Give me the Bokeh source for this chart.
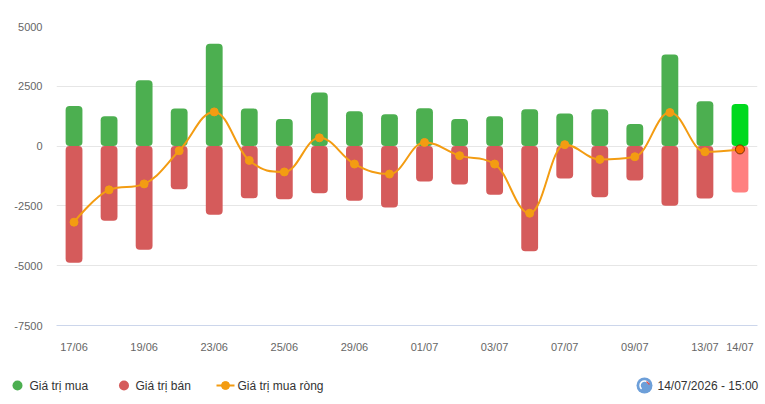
from bokeh.plotting import figure
from bokeh.models import Range1d, FixedTicker, ColumnDataSource
from bokeh.layouts import column
from bokeh.embed import file_html
from bokeh.resources import INLINE
from bokeh.core.properties import value

dates = ["17/06", "18/06", "19/06", "22/06", "23/06", "24/06", "25/06", "26/06", "29/06", "30/06",
         "01/07", "02/07", "03/07", "06/07", "07/07", "08/07", "09/07", "10/07", "13/07", "14/07"]
buy = [1680, 1250, 2750, 1570, 4280, 1570, 1130, 2240, 1460, 1330,
       1580, 1130, 1250, 1540, 1360, 1540, 920, 3830, 1880, 1760]
sell = [-4880, -3120, -4330, -1800, -2870, -2180, -2220, -1970, -2280, -2570,
        -1480, -1610, -2030, -4400, -1350, -2140, -1440, -2490, -2190, -1940]
net = [-3180, -1830, -1580, -195, 1430, -600, -1080, 347, -750, -1170,
       153, -400, -750, -2806, 60, -555, -444, 1403, -236, -139]
label_idx = [0, 2, 4, 6, 8, 10, 12, 14, 16, 18, 19]
y_ticks = [-7500, -5000, -2500, 0, 2500, 5000]
legend_names = ["Giá trị mua", "Giá trị bán", "Giá trị mua ròng"]
timestamp = "14/07/2026 - 15:00"

GREEN = "#4caf50"
RED = "#d55b5b"
ORANGE = "#f39c12"
FONT = "Liberation Sans"

n = len(dates)
xs = list(range(n))
green_cols = [GREEN] * (n - 1) + ["#00d91e"]
red_cols = [RED] * (n - 1) + ["#ff8080"]

p = figure(output_backend="svg", toolbar_location=None,
           frame_width=701, frame_height=299,
           min_border_left=56, min_border_right=8, min_border_top=26, min_border_bottom=32,
           x_range=Range1d(-0.5, n - 0.5), y_range=Range1d(y_ticks[0], y_ticks[-1]))
p.outline_line_color = None
p.background_fill_color = "white"
p.border_fill_color = "white"

src = ColumnDataSource(dict(x=xs, buy=buy, sell=sell, gc=green_cols, rc=red_cols))
p.vbar(x="x", top="buy", bottom=0, width=0.48, fill_color="gc", line_color=None,
       border_radius=4, source=src)
p.vbar(x="x", top=0, bottom="sell", width=0.48, fill_color="rc", line_color=None,
       border_radius=4, source=src)

# Highcharts-like spline
def spline_controls(px_, py_, smoothing=1.5):
    m = len(px_)
    d = smoothing + 1
    lcx, lcy, rcx, rcy = list(px_), list(py_), list(px_), list(py_)
    for i in range(1, m - 1):
        x, y = px_[i], py_[i]
        lx, ly = px_[i - 1], py_[i - 1]
        nx, ny = px_[i + 1], py_[i + 1]
        lX = (smoothing * x + lx) / d
        lY = (smoothing * y + ly) / d
        rX = (smoothing * x + nx) / d
        rY = (smoothing * y + ny) / d
        if rX != lX:
            corr = ((rY - lY) * (rX - x)) / (rX - lX) + y - rY
            lY += corr
            rY += corr
        if lY > ly and lY > y:
            lY = max(ly, y); rY = 2 * y - lY
        elif lY < ly and lY < y:
            lY = min(ly, y); rY = 2 * y - lY
        if rY > ny and rY > y:
            rY = max(ny, y); lY = 2 * y - rY
        elif rY < ny and rY < y:
            rY = min(ny, y); lY = 2 * y - rY
        lcx[i], lcy[i], rcx[i], rcy[i] = lX, lY, rX, rY
    return lcx, lcy, rcx, rcy

lcx, lcy, rcx, rcy = spline_controls(xs, net)
p.bezier(x0=xs[:-1], y0=net[:-1], x1=xs[1:], y1=net[1:],
         cx0=rcx[:-1], cy0=rcy[:-1], cx1=lcx[1:], cy1=lcy[1:],
         line_color=ORANGE, line_width=2)
p.scatter(xs[:-1], net[:-1], size=8, fill_color=ORANGE, line_color=ORANGE)
p.scatter(xs[-1:], net[-1:], size=9, fill_color="#ff6a00", line_color="#7a3300", line_width=1)

# axes
p.xaxis.ticker = FixedTicker(ticks=label_idx)
p.xaxis.major_label_overrides = {i: dates[i] for i in label_idx}
p.xaxis.axis_line_color = "#ccd6eb"
p.xaxis.major_tick_line_color = None
p.xaxis.minor_tick_line_color = None
p.xaxis.major_label_standoff = 9
p.xaxis.major_label_text_font = FONT
p.xaxis.major_label_text_font_size = "11px"
p.xaxis.major_label_text_color = "#666666"

p.yaxis.ticker = FixedTicker(ticks=y_ticks)
p.yaxis.major_label_overrides = {t: str(t) for t in y_ticks}
p.yaxis.axis_line_color = None
p.yaxis.major_tick_line_color = None
p.yaxis.minor_tick_line_color = None
p.yaxis.major_label_standoff = 8
p.yaxis.major_label_text_font = FONT
p.yaxis.major_label_text_font_size = "11px"
p.yaxis.major_label_text_color = "#666666"

p.xgrid.grid_line_color = None
p.ygrid.grid_line_color = "#e6e6e6"
p.ygrid.ticker = FixedTicker(ticks=y_ticks[1:])

# legend row (coordinates = page pixels within this row)
W2, H2 = 765, 44
q = figure(output_backend="svg", toolbar_location=None, frame_width=W2, frame_height=H2,
           x_axis_location=None, y_axis_location=None,
           min_border_left=0, min_border_right=0, min_border_top=0, min_border_bottom=0,
           x_range=Range1d(0, W2), y_range=Range1d(H2, 0))
for fig in (p, q):
    if "frame_align" in fig.properties():
        fig.frame_align = False
q.grid.grid_line_color = None
q.outline_line_color = None
ly_ = 28
q.scatter([17], [ly_], size=10, fill_color=GREEN, line_color=None)
q.scatter([123.5], [ly_], size=10, fill_color=RED, line_color=None)
q.segment(x0=[216], y0=[ly_], x1=[234], y1=[ly_], line_color=ORANGE, line_width=2)
q.scatter([225], [ly_], size=8, fill_color=ORANGE, line_color=ORANGE)
q.text(x=[29, 135, 237], y=[ly_] * 3, text=legend_names, text_font=value(FONT),
       text_font_size="12px", text_color="#333333", text_baseline="middle")
# globe icon
q.scatter([644], [ly_], size=16, fill_color="#6d9fd9", line_color=None)
q.arc(x=[644], y=[ly_], radius=4.5, start_angle=0.6, end_angle=4.0, line_color="white",
      line_width=1.5)
q.segment(x0=[646], y0=[ly_ - 4], x1=[649], y1=[ly_ - 1], line_color="#e05050", line_width=1.2)
q.text(x=[657], y=[ly_], text=[timestamp], text_font=value(FONT),
       text_font_size="12px", text_color="#333333", text_baseline="middle")

layout = column(p, q, spacing=0)
open("out.html", "w").write(file_html(layout, INLINE))
